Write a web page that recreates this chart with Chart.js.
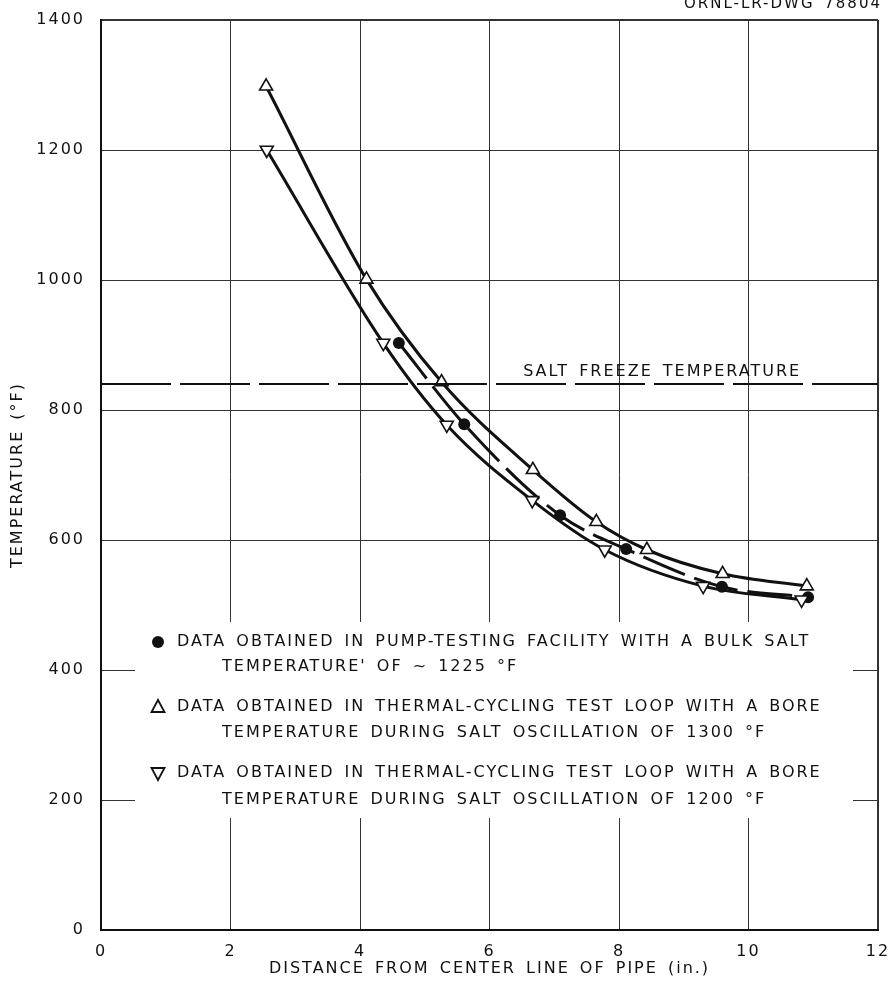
<!DOCTYPE html>
<html>
<head>
<meta charset="utf-8">
<script src="https://cdn.jsdelivr.net/npm/chart.js@4.4.1/dist/chart.umd.min.js"></script>
<style>
  html, body { margin: 0; padding: 0; background: #fff; }
  #wrap { width: 888px; height: 993px; position: relative; }
</style>
</head>
<body>
<div id="wrap"><canvas id="chart"></canvas></div>
<script>
// thermal-cycling loop, bore 1300 F (open triangles, point up)
const distUp = [2.55, 4.10, 5.26, 6.67, 7.65, 8.43, 9.60, 10.90];
const tempUp = [1298, 1001, 843, 708, 628, 585, 548, 529];

// thermal-cycling loop, bore 1200 F (open triangles, point down)
const distDown = [2.56, 4.36, 5.34, 6.66, 7.78, 9.30, 10.82];
const tempDown = [1200, 903, 777, 661, 585, 529, 508];

// pump-testing facility, bulk salt ~1225 F (filled circles)
const distPump = [4.60, 5.61, 7.09, 8.11, 9.59, 10.92];
const tempPump = [903, 778, 638, 586, 528, 512];

// salt freeze temperature line
const freezeX = [0, 12];
const freezeY = [840, 840];

const xTicks = [0, 2, 4, 6, 8, 10, 12];
const yTicks = [0, 200, 400, 600, 800, 1000, 1200, 1400];

const legendLines = [
    ['DATA OBTAINED IN PUMP-TESTING FACILITY WITH A BULK SALT', "TEMPERATURE' OF ~ 1225 °F"],
    ['DATA OBTAINED IN THERMAL-CYCLING TEST LOOP WITH A BORE', 'TEMPERATURE DURING SALT OSCILLATION OF 1300 °F'],
    ['DATA OBTAINED IN THERMAL-CYCLING TEST LOOP WITH A BORE', 'TEMPERATURE DURING SALT OSCILLATION OF 1200 °F'],
];

const INK = '#111';
const FONT = 'DejaVu Sans';

function pts(xs, ys) {
    return xs.map((x, i) => ({x: x, y: ys[i]}));
}

function spacing(ctx) {
    ctx.letterSpacing = '2px';
    ctx.wordSpacing = '3px';
}

const drawingExtras = {
    id: 'drawingExtras',
    beforeLayout(chart) { spacing(chart.ctx); },
    beforeDraw(chart) { spacing(chart.ctx); },
    beforeDatasetsDraw(chart) {
        // blank panel behind the key, over the grid
        const ctx = chart.ctx;
        ctx.save();
        ctx.fillStyle = '#fff';
        ctx.fillRect(135, 622, 718, 196);
        ctx.restore();
    },
    afterDraw(chart) {
        const ctx = chart.ctx;
        const xs = chart.scales.x, ys = chart.scales.y;
        ctx.save();
        spacing(ctx);
        ctx.fillStyle = INK;
        ctx.strokeStyle = INK;
        ctx.font = '16px "' + FONT + '"';
        ctx.textBaseline = 'middle';
        ctx.textAlign = 'left';

        ctx.fillText('SALT FREEZE TEMPERATURE', xs.getPixelForValue(6.52), ys.getPixelForValue(858));

        const rows = [642, 707, 773];
        const rows2 = [667, 733, 800];
        rows.forEach((y, i) => {
            ctx.fillText(legendLines[i][0], 177, y);
            ctx.fillText(legendLines[i][1], 222, rows2[i]);
        });

        // key markers
        ctx.lineWidth = 1.8;
        ctx.beginPath();
        ctx.arc(158, rows[0], 6, 0, Math.PI * 2);
        ctx.fill();
        ctx.beginPath();
        ctx.moveTo(158, rows[1] - 7);
        ctx.lineTo(164.5, rows[1] + 5);
        ctx.lineTo(151.5, rows[1] + 5);
        ctx.closePath();
        ctx.stroke();
        ctx.beginPath();
        ctx.moveTo(158, rows[2] + 7);
        ctx.lineTo(164.5, rows[2] - 5);
        ctx.lineTo(151.5, rows[2] - 5);
        ctx.closePath();
        ctx.stroke();

        ctx.font = '15px "' + FONT + '"';
        ctx.textBaseline = 'alphabetic';
        ctx.textAlign = 'right';
        ctx.fillText('ORNL-LR-DWG 78804', 882, 8);
        ctx.restore();
    }
};

const ctx = document.getElementById('chart').getContext('2d');
new Chart(ctx, {
    type: 'line',
    data: {
        datasets: [
            {
                data: pts(freezeX, freezeY),
                borderColor: INK,
                borderWidth: 2,
                borderDash: [70, 9],
                pointRadius: 0,
            },
            {
                data: pts(distUp, tempUp),
                borderColor: INK,
                borderWidth: 3,
                cubicInterpolationMode: 'monotone',
                pointStyle: 'triangle',
                pointRadius: 7.5,
                pointBackgroundColor: '#fff',
                pointBorderColor: INK,
                pointBorderWidth: 1.6,
            },
            {
                data: pts(distDown, tempDown),
                borderColor: INK,
                borderWidth: 3,
                cubicInterpolationMode: 'monotone',
                pointStyle: 'triangle',
                pointRotation: 180,
                pointRadius: 7.5,
                pointBackgroundColor: '#fff',
                pointBorderColor: INK,
                pointBorderWidth: 1.6,
            },
            {
                data: pts(distPump, tempPump),
                borderColor: INK,
                borderWidth: 3,
                borderDash: [45, 10],
                cubicInterpolationMode: 'monotone',
                pointStyle: 'circle',
                pointRadius: 6,
                pointBackgroundColor: INK,
                pointBorderColor: INK,
                pointBorderWidth: 0,
            },
        ]
    },
    options: {
        responsive: true,
        maintainAspectRatio: false,
        animation: false,
        layout: { padding: { top: 20, right: 10, left: 0, bottom: 0 } },
        plugins: {
            legend: { display: false },
            tooltip: { enabled: false },
        },
        scales: {
            x: {
                type: 'linear',
                min: 0,
                max: 12,
                afterBuildTicks: s => { s.ticks = xTicks.map(v => ({value: v})); },
                afterFit: s => { s.height = 63; s.paddingRight = 10; s.paddingLeft = 0; },
                ticks: {
                    color: INK,
                    padding: 12,
                    font: { family: FONT, size: 16 },
                    callback: v => String(v),
                },
                grid: {
                    color: '#333',
                    lineWidth: c => (c.tick && (c.tick.value === 0 || c.tick.value === 12)) ? 2 : 1,
                    drawTicks: false,
                },
                border: { display: true, color: INK, width: 2 },
                title: {
                    display: true,
                    text: 'DISTANCE FROM CENTER LINE OF PIPE (in.)',
                    color: INK,
                    font: { family: FONT, size: 16 },
                    padding: { top: 4, bottom: 15 },
                },
            },
            y: {
                type: 'linear',
                min: 0,
                max: 1400,
                afterBuildTicks: s => { s.ticks = yTicks.map(v => ({value: v})); },
                afterFit: s => { s.width = 101; s.paddingTop = 0; s.paddingBottom = 0; },
                ticks: {
                    color: INK,
                    padding: 16,
                    font: { family: FONT, size: 16 },
                    callback: v => String(v),
                },
                grid: {
                    color: '#333',
                    lineWidth: c => (c.tick && (c.tick.value === 0 || c.tick.value === 1400)) ? 2 : 1,
                    drawTicks: false,
                },
                border: { display: true, color: INK, width: 2 },
                title: {
                    display: true,
                    text: 'TEMPERATURE (°F)',
                    color: INK,
                    font: { family: FONT, size: 16 },
                    padding: { top: 8, bottom: 0 },
                },
            },
        },
    },
    plugins: [drawingExtras],
});
</script>
</body>
</html>
